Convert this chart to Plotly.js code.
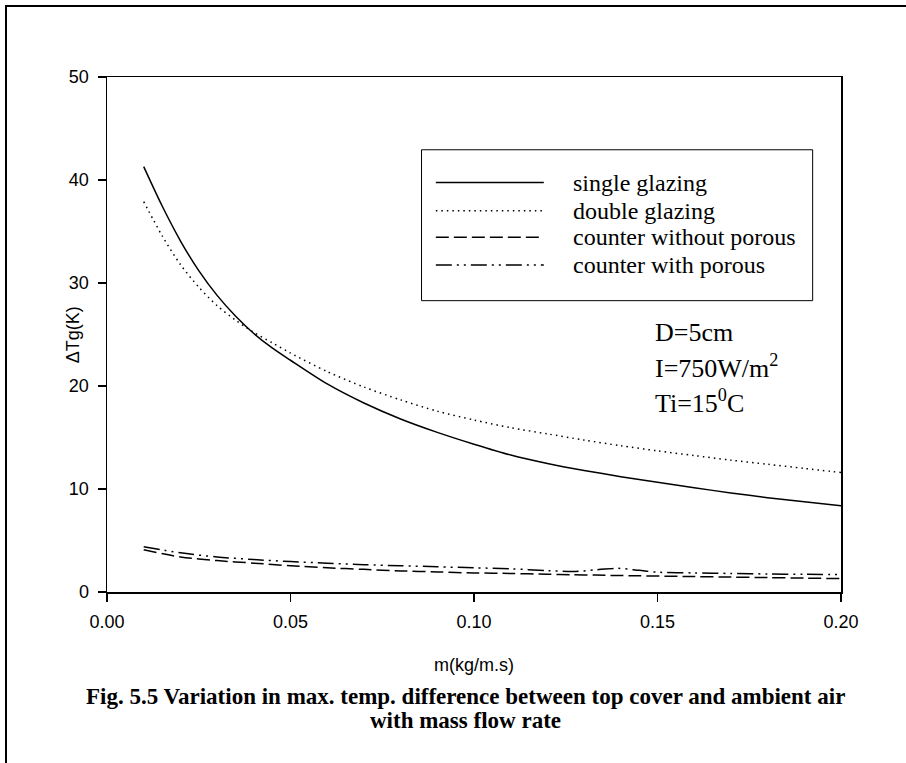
<!DOCTYPE html>
<html>
<head>
<meta charset="utf-8">
<script src="https://cdn.plot.ly/plotly-3.0.1.min.js"></script>
<style>
  html, body { margin: 0; padding: 0; background: #fff; }
  #wrap { position: relative; width: 906px; height: 763px; overflow: hidden; }
  #frame { position: absolute; left: 5px; top: 5px; width: 910px; height: 770px;
           border-top: 2px solid #000; border-left: 2px solid #000; box-sizing: border-box; }
  #chart { position: absolute; left: 0; top: 0; width: 906px; height: 763px; }
</style>
</head>
<body>
<div id="wrap">
  <div id="frame"></div>
  <div id="chart"></div>
</div>
<script>
// ---- data ----
const mFlow = [0.01, 0.015, 0.02, 0.025, 0.03, 0.035, 0.04, 0.045, 0.05, 0.06, 0.07, 0.08, 0.09, 0.10,
               0.11, 0.12, 0.13, 0.14, 0.15, 0.16, 0.17, 0.18, 0.19, 0.20];
const singleGlazing = [41.3, 37.5, 34.1, 31.2, 28.8, 26.8, 25.1, 23.7, 22.5, 20.2, 18.35, 16.8, 15.5, 14.35,
                       13.3, 12.48, 11.8, 11.2, 10.65, 10.12, 9.62, 9.16, 8.76, 8.38];
const doubleGlazing = [37.9, 34.6, 31.8, 29.6, 27.8, 26.4, 25.2, 24.2, 23.2, 21.4, 19.9, 18.65, 17.55, 16.7,
                       15.95, 15.35, 14.75, 14.2, 13.7, 13.25, 12.8, 12.4, 12.0, 11.6];
const mFlowCounter = [0.01, 0.02, 0.03, 0.04, 0.05, 0.06, 0.07, 0.08, 0.09, 0.10, 0.11, 0.12, 0.127,
                      0.133, 0.139, 0.145, 0.15, 0.16, 0.17, 0.18, 0.19, 0.20];
const counterWithoutPorous = [4.1, 3.4, 3.05, 2.8, 2.55, 2.35, 2.2, 2.05, 1.95, 1.85, 1.8, 1.72, 1.68,
                              1.64, 1.6, 1.57, 1.55, 1.5, 1.45, 1.4, 1.35, 1.3];
const counterWithPorous = [4.4, 3.8, 3.4, 3.15, 2.95, 2.8, 2.65, 2.55, 2.45, 2.35, 2.25, 2.08, 1.98,
                           2.15, 2.3, 2.1, 1.92, 1.85, 1.8, 1.75, 1.72, 1.7];
const seriesNames = ["single glazing", "double glazing", "counter without porous", "counter with porous"];
const xTicks = [0.00, 0.05, 0.10, 0.15, 0.20];
const yTicks = [0, 10, 20, 30, 40, 50];

// ---- styles ----
const dashes = ["solid", "1.5px,4px", "13px,5px", "16px,5px,2px,5px,2px,5px"];
const ys = [singleGlazing, doubleGlazing, counterWithoutPorous, counterWithPorous];
const xs = [mFlow, mFlow, mFlowCounter, mFlowCounter];

const traces = ys.map((y, i) => ({
  x: xs[i], y: y, type: "scatter", mode: "lines", name: seriesNames[i],
  line: { color: "#000", width: 1.5, dash: dashes[i], shape: "spline", smoothing: 0.8 },
  showlegend: false, hoverinfo: "skip"
}));

// custom legend (paper coordinates)
const legRows = [0.7951, 0.7401, 0.6890, 0.6351];
const shapes = [{
  type: "rect", xref: "paper", yref: "paper", x0: 0.4285, x1: 0.9614, y0: 0.5657, y1: 0.8587,
  line: { color: "#000", width: 1 }, fillcolor: "rgba(0,0,0,0)"
}];
const serif = "'Liberation Serif', 'Times New Roman', serif";
const sans = "'Liberation Sans', Arial, sans-serif";
const annotations = [];
legRows.forEach((yy, i) => {
  shapes.push({ type: "line", xref: "paper", yref: "paper", x0: 0.448, x1: 0.5951, y0: yy, y1: yy,
                line: { color: "#000", width: 1.5, dash: dashes[i] } });
  annotations.push({ xref: "paper", yref: "paper", x: 0.6316, y: yy, xanchor: "left", yanchor: "middle",
                     text: seriesNames[i], showarrow: false, font: { family: serif, size: 24, color: "#000" } });
});

// condition labels
const condTexts = ["D=5cm", "I=750W/m<sup>2</sup>", "Ti=15<sup>0</sup>C"];
const condY = [0.503, 0.437, 0.369];
condTexts.forEach((t, i) => annotations.push({
  xref: "paper", yref: "paper", x: 0.7437, y: condY[i], xanchor: "left", yanchor: "middle",
  text: t, showarrow: false, font: { family: serif, size: 26, color: "#000" }
}));

// y axis title placed between tick labels
annotations.push({ xref: "paper", yref: "paper", x: -0.0467, y: 0.5, xanchor: "center", yanchor: "middle",
  text: "ΔTg(K)", textangle: -90, showarrow: false, font: { family: sans, size: 18, color: "#000" } });

// caption
annotations.push({ xref: "paper", yref: "paper", x: 0.4882, y: -0.203, xanchor: "center", yanchor: "middle",
  text: "Fig. 5.5 Variation in max. temp. difference between top cover and ambient air",
  showarrow: false, font: { family: serif, size: 23, color: "#000", weight: "bold" } });
annotations.push({ xref: "paper", yref: "paper", x: 0.4882, y: -0.25, xanchor: "center", yanchor: "middle",
  text: "with mass flow rate",
  showarrow: false, font: { family: serif, size: 23, color: "#000", weight: "bold" } });

const layout = {
  width: 906, height: 763,
  margin: { l: 107.3, r: 65, t: 77.3, b: 171.3, pad: 0 },
  paper_bgcolor: "rgba(0,0,0,0)", plot_bgcolor: "#fff",
  showlegend: false,
  xaxis: {
    range: [0, 0.2], tickvals: xTicks, ticktext: xTicks.map(v => v.toFixed(2)),
    ticks: "outside", ticklen: 8, tickwidth: 1.5, tickcolor: "#000", ticklabelstandoff: 5,
    showline: true, linecolor: "#000", linewidth: 1.5, mirror: true,
    showgrid: false, zeroline: false,
    tickfont: { family: sans, size: 18, color: "#000" },
    title: { text: "m(kg/m.s)", font: { family: sans, size: 18, color: "#000" }, standoff: 27 }
  },
  yaxis: {
    range: [0, 50], tickvals: yTicks, ticktext: yTicks.map(String),
    ticks: "outside", ticklen: 8, tickwidth: 1.5, tickcolor: "#000", ticklabelstandoff: 5,
    showline: true, linecolor: "#000", linewidth: 1.5, mirror: true,
    showgrid: false, zeroline: false,
    tickfont: { family: sans, size: 18, color: "#000" }
  },
  shapes: shapes,
  annotations: annotations
};

Plotly.newPlot("chart", traces, layout, { staticPlot: true, displayModeBar: false });
</script>
</body>
</html>
